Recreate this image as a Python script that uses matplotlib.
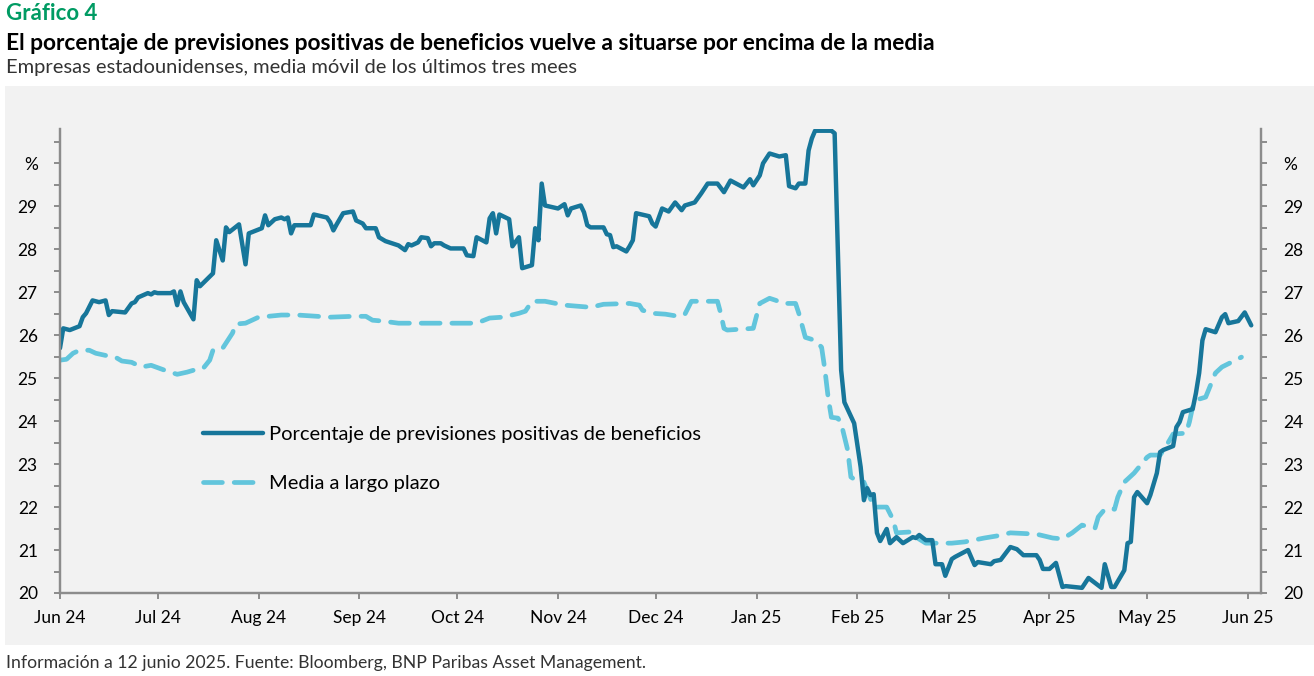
import numpy as np
import pandas as pd
import matplotlib
matplotlib.use('Agg')
import matplotlib.pyplot as plt
import matplotlib.dates as mdates
from matplotlib.patches import Rectangle

plt.rcParams['font.family'] = ['Lato', 'DejaVu Sans']

# porcentaje de previsiones positivas (linea continua)
pos_dates = ['2024-06-01', '2024-06-02', '2024-06-04', '2024-06-07', '2024-06-08', '2024-06-09', '2024-06-11',
             '2024-06-13', '2024-06-15', '2024-06-16', '2024-06-17', '2024-06-21', '2024-06-23', '2024-06-24',
             '2024-06-25', '2024-06-28', '2024-06-29', '2024-06-30', '2024-07-01', '2024-07-05', '2024-07-06',
             '2024-07-07', '2024-07-08', '2024-07-09', '2024-07-12', '2024-07-13', '2024-07-14', '2024-07-18',
             '2024-07-19', '2024-07-21', '2024-07-22', '2024-07-23', '2024-07-26', '2024-07-28', '2024-07-29',
             '2024-08-02', '2024-08-03', '2024-08-04', '2024-08-06', '2024-08-08', '2024-08-09', '2024-08-10',
             '2024-08-11', '2024-08-12', '2024-08-17', '2024-08-18', '2024-08-22', '2024-08-23', '2024-08-24',
             '2024-08-25', '2024-08-27', '2024-08-30', '2024-08-31', '2024-09-02', '2024-09-03', '2024-09-06',
             '2024-09-07', '2024-09-09', '2024-09-13', '2024-09-15', '2024-09-16', '2024-09-17', '2024-09-19',
             '2024-09-20', '2024-09-22', '2024-09-23', '2024-09-24', '2024-09-26', '2024-09-27', '2024-09-29',
             '2024-10-03', '2024-10-04', '2024-10-06', '2024-10-07', '2024-10-10', '2024-10-11', '2024-10-12',
             '2024-10-13', '2024-10-14', '2024-10-17', '2024-10-18', '2024-10-20', '2024-10-21', '2024-10-24',
             '2024-10-25', '2024-10-26', '2024-10-27', '2024-10-28', '2024-11-01', '2024-11-03', '2024-11-04',
             '2024-11-05', '2024-11-08', '2024-11-09', '2024-11-10', '2024-11-11', '2024-11-15', '2024-11-16',
             '2024-11-17', '2024-11-18', '2024-11-19', '2024-11-22', '2024-11-23', '2024-11-24', '2024-11-25',
             '2024-11-29', '2024-11-30', '2024-12-01', '2024-12-03', '2024-12-05', '2024-12-07', '2024-12-09',
             '2024-12-10', '2024-12-13', '2024-12-15', '2024-12-17', '2024-12-20', '2024-12-22', '2024-12-24',
             '2024-12-28', '2024-12-30', '2024-12-31', '2025-01-02', '2025-01-03', '2025-01-05', '2025-01-08',
             '2025-01-10', '2025-01-11', '2025-01-13', '2025-01-14', '2025-01-16', '2025-01-17', '2025-01-18',
             '2025-01-19', '2025-01-24', '2025-01-25', '2025-01-27', '2025-01-28', '2025-01-31', '2025-02-02',
             '2025-02-03', '2025-02-04', '2025-02-05', '2025-02-06', '2025-02-07', '2025-02-08', '2025-02-10',
             '2025-02-11', '2025-02-13', '2025-02-15', '2025-02-18', '2025-02-19', '2025-02-20', '2025-02-22',
             '2025-02-24', '2025-02-25', '2025-02-27', '2025-02-28', '2025-03-02', '2025-03-03', '2025-03-07',
             '2025-03-09', '2025-03-10', '2025-03-14', '2025-03-15', '2025-03-17', '2025-03-20', '2025-03-22',
             '2025-03-24', '2025-03-28', '2025-03-29', '2025-03-30', '2025-04-01', '2025-04-03', '2025-04-05',
             '2025-04-06', '2025-04-11', '2025-04-13', '2025-04-17', '2025-04-18', '2025-04-20', '2025-04-21',
             '2025-04-24', '2025-04-25', '2025-04-26', '2025-04-27', '2025-04-28', '2025-05-01', '2025-05-02',
             '2025-05-04', '2025-05-05', '2025-05-06', '2025-05-09', '2025-05-10', '2025-05-11', '2025-05-12',
             '2025-05-15', '2025-05-16', '2025-05-17', '2025-05-18', '2025-05-19', '2025-05-22', '2025-05-24',
             '2025-05-25', '2025-05-26', '2025-05-29', '2025-05-31', '2025-06-02']
pos_vals = [25.70, 26.16, 26.12, 26.21, 26.42, 26.51, 26.81,
            26.77, 26.81, 26.47, 26.56, 26.53, 26.74, 26.77,
            26.88, 26.98, 26.95, 27.00, 26.98, 26.98, 27.02,
            26.70, 27.02, 26.77, 26.37, 27.28, 27.14, 27.44,
            28.21, 27.74, 28.51, 28.40, 28.58, 27.65, 28.37,
            28.49, 28.79, 28.56, 28.70, 28.74, 28.70, 28.74,
            28.37, 28.56, 28.56, 28.81, 28.74, 28.63, 28.44,
            28.58, 28.84, 28.88, 28.67, 28.60, 28.49, 28.49,
            28.28, 28.19, 28.09, 27.98, 28.12, 28.09, 28.16,
            28.28, 28.26, 28.07, 28.14, 28.14, 28.09, 28.02,
            28.02, 27.86, 27.84, 28.28, 28.16, 28.72, 28.84,
            28.37, 28.81, 28.70, 28.07, 28.28, 27.56, 27.63,
            28.49, 28.21, 29.53, 29.02, 28.95, 29.05, 28.79,
            28.95, 29.02, 28.86, 28.56, 28.51, 28.51, 28.35,
            28.33, 28.05, 28.07, 27.95, 28.07, 28.21, 28.84,
            28.77, 28.60, 28.53, 28.95, 28.88, 29.09, 28.91,
            29.02, 29.09, 29.30, 29.53, 29.53, 29.33, 29.60,
            29.44, 29.63, 29.49, 29.72, 30.00, 30.23, 30.16,
            30.19, 29.47, 29.42, 29.53, 29.53, 30.30, 30.58,
            30.76, 30.76, 30.70, 25.19, 24.44, 23.95, 22.93,
            22.16, 22.44, 22.28, 22.30, 21.40, 21.21, 21.49,
            21.16, 21.30, 21.16, 21.30, 21.28, 21.35, 21.23,
            21.23, 20.67, 20.67, 20.40, 20.79, 20.84, 21.00,
            20.65, 20.72, 20.67, 20.74, 20.77, 21.07, 21.02,
            20.88, 20.88, 20.77, 20.56, 20.56, 20.70, 20.14,
            20.16, 20.12, 20.35, 20.12, 20.67, 20.14, 20.14,
            20.53, 21.16, 21.19, 22.23, 22.35, 22.09, 22.28,
            22.79, 23.28, 23.33, 23.42, 23.86, 23.98, 24.21,
            24.28, 24.65, 25.12, 25.88, 26.14, 26.07, 26.42,
            26.49, 26.28, 26.33, 26.53, 26.23]

# media a largo plazo (linea discontinua)
avg_dates = ['2024-06-01', '2024-06-03', '2024-06-05', '2024-06-07', '2024-06-10', '2024-06-12', '2024-06-15',
             '2024-06-18', '2024-06-20', '2024-06-23', '2024-06-26', '2024-06-29', '2024-07-03', '2024-07-07',
             '2024-07-10', '2024-07-14', '2024-07-15', '2024-07-17', '2024-07-18', '2024-07-19', '2024-07-21',
             '2024-07-24', '2024-07-25', '2024-07-28', '2024-07-30', '2024-08-01', '2024-08-04', '2024-08-08',
             '2024-08-13', '2024-08-23', '2024-08-30', '2024-09-03', '2024-09-05', '2024-09-08', '2024-09-13',
             '2024-09-23', '2024-09-29', '2024-10-07', '2024-10-11', '2024-10-15', '2024-10-20', '2024-10-22',
             '2024-10-24', '2024-10-28', '2024-11-03', '2024-11-11', '2024-11-15', '2024-11-23', '2024-11-26',
             '2024-11-27', '2024-11-30', '2024-12-04', '2024-12-08', '2024-12-10', '2024-12-12', '2024-12-20',
             '2024-12-21', '2024-12-22', '2024-12-23', '2024-12-31', '2025-01-02', '2025-01-05', '2025-01-07',
             '2025-01-09', '2025-01-13', '2025-01-14', '2025-01-16', '2025-01-19', '2025-01-21', '2025-01-22',
             '2025-01-23', '2025-01-24', '2025-01-26', '2025-01-27', '2025-01-29', '2025-01-30', '2025-01-31',
             '2025-02-03', '2025-02-06', '2025-02-10', '2025-02-12', '2025-02-13', '2025-02-17', '2025-02-19',
             '2025-02-22', '2025-02-26', '2025-03-02', '2025-03-06', '2025-03-12', '2025-03-16', '2025-03-20',
             '2025-03-28', '2025-04-02', '2025-04-05', '2025-04-08', '2025-04-11', '2025-04-15', '2025-04-16',
             '2025-04-18', '2025-04-21', '2025-04-22', '2025-04-24', '2025-04-27', '2025-05-01', '2025-05-02',
             '2025-05-05', '2025-05-07', '2025-05-09', '2025-05-13', '2025-05-14', '2025-05-15', '2025-05-16',
             '2025-05-19', '2025-05-22', '2025-05-24', '2025-05-30']
avg_vals = [25.42, 25.44, 25.58, 25.65, 25.65, 25.58, 25.53,
            25.49, 25.40, 25.37, 25.26, 25.30, 25.19, 25.09,
            25.14, 25.23, 25.23, 25.42, 25.65, 25.70, 25.70,
            26.05, 26.26, 26.28, 26.35, 26.42, 26.44, 26.47,
            26.47, 26.42, 26.44, 26.44, 26.35, 26.33, 26.28,
            26.28, 26.28, 26.28, 26.40, 26.42, 26.51, 26.56,
            26.79, 26.79, 26.70, 26.65, 26.72, 26.74, 26.70,
            26.58, 26.51, 26.49, 26.44, 26.49, 26.79, 26.79,
            26.51, 26.16, 26.12, 26.16, 26.74, 26.86, 26.81,
            26.74, 26.74, 26.51, 25.95, 25.88, 25.72, 25.20,
            24.56, 24.09, 24.07, 23.95, 23.33, 22.70, 22.65,
            22.58, 22.00, 22.00, 21.70, 21.40, 21.42, 21.30,
            21.16, 21.16, 21.16, 21.19, 21.28, 21.33, 21.40,
            21.37, 21.28, 21.26, 21.40, 21.58, 21.51, 21.77,
            21.95, 21.95, 22.23, 22.58, 22.79, 23.16, 23.21,
            23.21, 23.44, 23.70, 23.72, 23.98, 24.33, 24.49,
            24.56, 25.12, 25.26, 25.49]

month_ticks = ['2024-06-01', '2024-07-01', '2024-08-01', '2024-09-01', '2024-10-01', '2024-11-01', '2024-12-01',
               '2025-01-01', '2025-02-01', '2025-03-01', '2025-04-01', '2025-05-01', '2025-06-01']
month_labels = ['Jun 24', 'Jul 24', 'Aug 24', 'Sep 24', 'Oct 24', 'Nov 24', 'Dec 24',
                'Jan 25', 'Feb 25', 'Mar 25', 'Apr 25', 'May 25', 'Jun 25']
y_ticks = [20, 21, 22, 23, 24, 25, 26, 27, 28, 29, 30]
y_labels = ['20', '21', '22', '23', '24', '25', '26', '27', '28', '29', '%']

dark_blue = '#17769a'
light_blue = '#62c5dc'
axis_grey = '#8c8c8c'

fig = plt.figure(figsize=(13.14, 6.76), dpi=100)
fig.patch.set_facecolor('white')
fig.add_artist(Rectangle((5 / 1314, 1 - 645 / 676), 1 - 5 / 1314, (645 - 86) / 676,
                         transform=fig.transFigure, facecolor='#f2f2f2', edgecolor='none', zorder=0))

ax = fig.add_axes([60 / 1314, 1 - 593 / 676, (1261 - 60) / 1314, (593 - 129) / 676])
ax.set_facecolor('none')

pos_x = pd.to_datetime(pos_dates)
avg_x = pd.to_datetime(avg_dates)
ax.plot(pos_x, pos_vals, color=dark_blue, lw=3.2, solid_joinstyle='round',
        solid_capstyle='round', label='Porcentaje de previsiones positivas de beneficios', zorder=3)
ax.plot(avg_x, avg_vals, color=light_blue, lw=3.4, dashes=(4.0, 2.5), dash_capstyle='round',
        dash_joinstyle='round', label='Media a largo plazo', zorder=2)

ax.set_xlim(pd.Timestamp('2024-06-01'), pd.Timestamp('2025-06-05'))
ax.set_ylim(20, 30.8)

ax.set_xticks(pd.to_datetime(month_ticks))
ax.set_xticklabels(month_labels)
ax.set_yticks(y_ticks)
ax.set_yticklabels(y_labels)
ax.set_yticks(np.arange(20.5, 30.6, 1.0), minor=True)

ax2 = ax.twinx()
ax2.set_ylim(ax.get_ylim())
ax2.set_yticks(y_ticks)
ax2.set_yticklabels(y_labels)
ax2.set_yticks(np.arange(20.5, 30.6, 1.0), minor=True)

for a in (ax, ax2):
    a.spines['top'].set_visible(False)
    for s in ('left', 'right', 'bottom'):
        a.spines[s].set_color(axis_grey)
        a.spines[s].set_linewidth(1.6)
    a.tick_params(which='both', color=axis_grey, width=1.4, length=4, labelsize=12.5, labelcolor='black')
ax.tick_params(axis='y', which='both', pad=12)
ax.tick_params(axis='x', pad=8)
ax2.tick_params(axis='y', which='both', pad=12)

leg = ax.legend(loc='upper left', bbox_to_anchor=(0.104, 0.40), frameon=False, fontsize=14.5,
                handlelength=3.0, handletextpad=0.3, labelspacing=1.6)

fig.text(6 / 1314, 1 - 14 / 676, 'Gráfico 4', color='#009b63', fontsize=16, fontweight='bold', va='center')
fig.text(6 / 1314, 1 - 43 / 676, 'El porcentaje de previsiones positivas de beneficios vuelve a situarse por encima de la media',
         color='black', fontsize=16.4, fontweight='bold', va='center')
fig.text(6 / 1314, 1 - 68 / 676, 'Empresas estadounidenses, media móvil de los últimos tres mees',
         color='#333333', fontsize=14.5, va='center')
fig.text(6 / 1314, 1 - 663 / 676, 'Información a 12 junio 2025. Fuente: Bloomberg, BNP Paribas Asset Management.',
         color='#333333', fontsize=12.7, va='center')

fig.savefig('out.png', dpi=100)
